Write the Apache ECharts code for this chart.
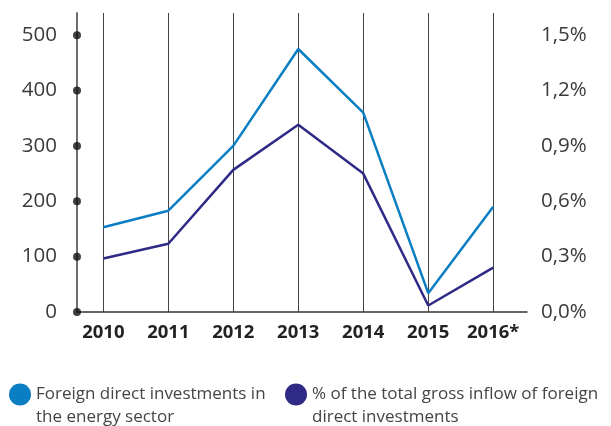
<!DOCTYPE html>
<html>
<head>
<meta charset="utf-8">
<script src="https://cdn.jsdelivr.net/npm/echarts@6/dist/echarts.min.js"></script>
<style>
  html, body { margin: 0; padding: 0; background: #fff; }
  #chart { width: 611px; height: 426px; }
</style>
</head>
<body>
<div id="chart"></div>
<script>
var years = ['2010', '2011', '2012', '2013', '2014', '2015', '2016*'];
var fdiEnergy = [153, 183, 300, 475, 360, 34, 190];      // left axis
var fdiShare = [0.29, 0.37, 0.77, 1.015, 0.75, 0.035, 0.24]; // right axis, %
var leftTicks = [0, 100, 200, 300, 400, 500];
var seriesNames = [
    'Foreign direct investments in\nthe energy sector',
    '% of the total gross inflow of foreign\ndirect investments'
];

var xMin = -0.405, xMax = 6.52;
var font = '"Open Sans", "Noto Sans", sans-serif';

var legendText = {fontSize: 17, color: '#444', lineHeight: 23};
// blank first line so the icon sits level with the first text line
var legendFormatter = function(name) { return ' \n' + name; };

var myChart = echarts.init(document.getElementById('chart'));

myChart.setOption({
    animation: false,
    textStyle: {fontFamily: font},
    grid: {left: 77, right: 84, top: 13, bottom: 114},
    legend: [
        {
            data: [seriesNames[0]], left: 4, top: 355, itemGap: 0,
            icon: 'circle', itemWidth: 22, itemHeight: 22,
            formatter: legendFormatter, textStyle: legendText
        },
        {
            data: [seriesNames[1]], left: 280, top: 355, itemGap: 0,
            icon: 'circle', itemWidth: 22, itemHeight: 22,
            formatter: legendFormatter, textStyle: legendText
        }
    ],
    xAxis: {
        type: 'value',
        min: xMin,
        max: xMax,
        minInterval: 1,
        maxInterval: 1,
        axisLine: {lineStyle: {color: '#333', width: 1.5}},
        axisTick: {show: false},
        splitLine: {
            show: true, showMinLine: false, showMaxLine: false,
            lineStyle: {color: '#444', width: 1}
        },
        axisLabel: {
            margin: 11,
            fontSize: 18.5,
            fontWeight: 'bold',
            color: '#222',
            showMinLabel: false,
            showMaxLabel: false,
            formatter: function(v) {
                return Number.isInteger(v) && years[v] ? years[v] : '';
            }
        }
    },
    yAxis: [
        {
            type: 'value', min: 0, max: 540, interval: 100,
            axisLine: {show: true, onZero: false, lineStyle: {color: '#6e6e6e', width: 2}},
            axisTick: {show: false},
            splitLine: {show: false},
            axisLabel: {
                fontSize: 20.5, color: '#3a3a3a', margin: 20,
                formatter: function(v) { return v <= 500 ? v : ''; }
            }
        },
        {
            type: 'value', min: 0, max: 1.62, interval: 0.3,
            axisLine: {show: false, onZero: false},
            axisTick: {show: false},
            splitLine: {show: false},
            axisLabel: {
                fontSize: 20.5, color: '#3a3a3a', margin: 14,
                formatter: function(v) {
                    return v <= 1.5 ? v.toFixed(1).replace('.', ',') + '%' : '';
                }
            }
        }
    ],
    series: [
        {
            name: seriesNames[0],
            type: 'line',
            yAxisIndex: 0,
            showSymbol: false,
            color: '#0a7ec3',
            lineStyle: {width: 2.5, color: '#0a7ec3'},
            data: fdiEnergy.map(function(v, i) { return [i, v]; })
        },
        {
            name: seriesNames[1],
            type: 'line',
            yAxisIndex: 1,
            showSymbol: false,
            color: '#2e2a86',
            lineStyle: {width: 2.5, color: '#2e2a86'},
            data: fdiShare.map(function(v, i) { return [i, v]; })
        },
        {
            type: 'scatter',
            yAxisIndex: 0,
            symbolSize: 8,
            clip: false,
            silent: true,
            itemStyle: {color: '#111'},
            data: leftTicks.map(function(v) { return [xMin, v]; })
        }
    ]
});
</script>
</body>
</html>
